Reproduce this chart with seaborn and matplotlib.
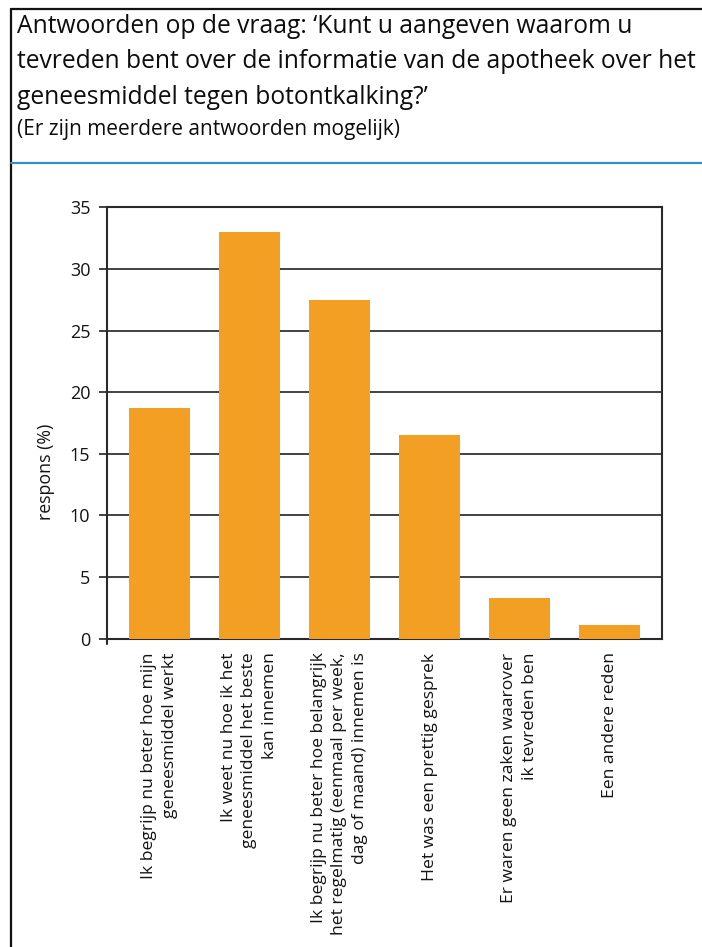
import matplotlib
matplotlib.use("Agg")
import matplotlib.pyplot as plt
from matplotlib.lines import Line2D
import seaborn as sns
import pandas as pd

# Survey answers (percentage of respondents, multiple answers possible)
categories = [
    "Ik begrijp nu beter hoe mijn\ngeneesmiddel werkt",
    "Ik weet nu hoe ik het\ngeneesmiddel het beste\nkan innemen",
    "Ik begrijp nu beter hoe belangrijk\nhet regelmatig (eenmaal per week,\ndag of maand) innemen is",
    "Het was een prettig gesprek",
    "Er waren geen zaken waarover\nik tevreden ben",
    "Een andere reden",
]
respons = [18.7, 33.0, 27.5, 16.5, 3.3, 1.1]
yticks = [0, 5, 10, 15, 20, 25, 30, 35]

title_lines = [
    "Antwoorden op de vraag: \u2018Kunt u aangeven waarom u",
    "tevreden bent over de informatie van de apotheek over het",
    "geneesmiddel tegen botontkalking?\u2019",
]
subtitle = "(Er zijn meerdere antwoorden mogelijk)"

df = pd.DataFrame({"antwoord": categories, "respons": respons})

sns.set_theme(style="white")
plt.rcParams["font.family"] = ["Open Sans", "DejaVu Sans"]

W, H = 702, 947
fig = plt.figure(figsize=(W / 100, H / 100), dpi=100)
fig.patch.set_facecolor("white")

def fx(px):
    return px / W

def fy(py):
    return 1 - py / H

# plot area in pixel coordinates
left, right, top, bottom = 107, 662, 207.5, 638.5
ax = fig.add_axes([fx(left), fy(bottom), fx(right - left), (bottom - top) / H])

orange = "#F39F24"
grid_c = "#333333"
text_c = "#141414"

sns.barplot(data=df, x="antwoord", y="respons", color=orange, width=0.67,
            saturation=1, linewidth=0, ax=ax, zorder=3)

ax.set_ylim(0, 35)
ax.set_xlim(-0.583, 5.583)
ax.set_yticks(yticks)
ax.yaxis.grid(True, color=grid_c, linewidth=1.3, zorder=0)
ax.set_axisbelow(True)
for s in ax.spines.values():
    s.set_visible(True)
    s.set_color("#2a2a2a")
    s.set_linewidth(1.5)

ax.tick_params(axis="y", length=6, width=1.3, color=grid_c, pad=6,
               labelsize=13, labelcolor=text_c, left=True)
ax.tick_params(axis="x", length=0, pad=10, labelsize=12.6, labelcolor=text_c)
ax.set_xticks(range(len(categories)))
ax.set_xticklabels(categories, rotation=90, ha="center", va="top",
                   multialignment="right", linespacing=1.35)
ax.set_xlabel("")
ax.set_ylabel("respons (%)", fontsize=12.8, color=text_c)
ax.yaxis.set_label_coords(-0.094, 0.387)

# small extension of the left spine below the baseline
ax.plot([0, 0], [0, -0.012], transform=ax.transAxes, color="#2a2a2a",
        linewidth=1.5, clip_on=False)

# title block
ys = [33.3, 68.5, 103.5]
for line, yb in zip(title_lines, ys):
    fig.text(fx(17), fy(yb), line, fontsize=17.7, color="#0d0d0d",
             ha="left", va="baseline")
fig.text(fx(17), fy(135.5), subtitle, fontsize=15, color="#0d0d0d",
         ha="left", va="baseline")

# outer frame (left and top edges) and blue separator
fig.add_artist(Line2D([fx(10.5), fx(10.5)], [fy(9), 0], color="#111111",
                      linewidth=1.6))
fig.add_artist(Line2D([fx(10.5), 1], [fy(9), fy(9)], color="#111111",
                      linewidth=1.6))
fig.add_artist(Line2D([fx(11), 1], [fy(162.7), fy(162.7)], color="#3A8CCB",
                      linewidth=1.6))

fig.savefig("out.png", dpi=100, facecolor="white")
